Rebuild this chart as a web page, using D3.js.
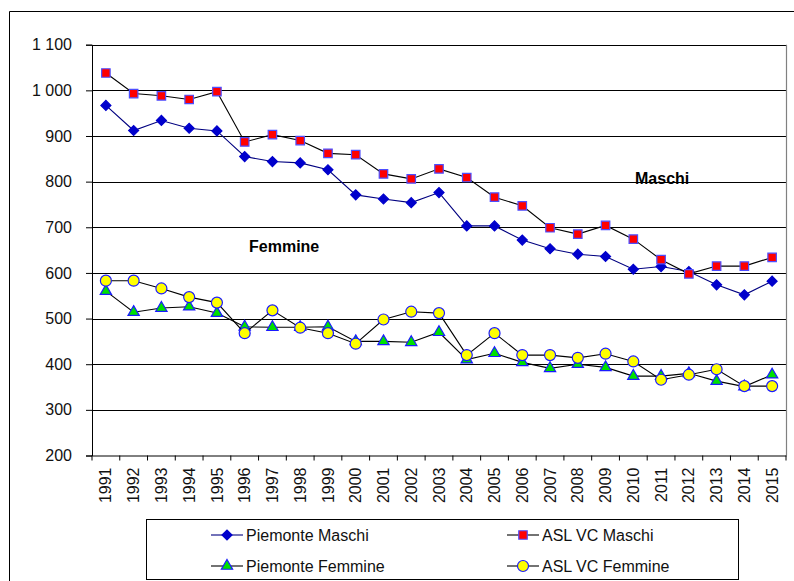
<!DOCTYPE html>
<html>
<head>
<meta charset="utf-8">
<script src="https://cdn.jsdelivr.net/npm/d3@7"></script>
<style>
  html, body { margin: 0; padding: 0; background: #fff; }
  svg { display: block; }
  text { font-family: "Liberation Sans", Arial, sans-serif; }
</style>
</head>
<body>
<svg id="chart" width="794" height="581"></svg>
<script>
const years = ["1991","1992","1993","1994","1995","1996","1997","1998","1999","2000","2001","2002","2003","2004","2005","2006","2007","2008","2009","2010","2011","2012","2013","2014","2015"];
const piemonteMaschi = [967,912,934,917,911,855,844,841,826,771,762,754,776,703,703,672,653,641,636,608,614,603,574,552,582];
const aslVcMaschi = [1038,993,988,980,997,887,903,890,862,859,817,806,828,809,766,747,699,685,704,674,629,598,615,615,634];
const piemonteFemmine = [560,514,523,526,512,482,481,481,482,450,450,448,470,410,424,404,391,400,393,374,374,380,363,351,377];
const aslVcFemmine = [583,583,566,547,535,468,518,480,468,445,498,515,512,420,468,420,420,414,423,406,366,377,389,352,352];
const yTicks = [200,300,400,500,600,700,800,900,1000,1100];
const seriesNames = ["Piemonte Maschi","ASL VC Maschi","Piemonte Femmine","ASL VC Femmine"];

const svg = d3.select("#chart");
const pLeft = 92, pRight = 786, pTop = 44.7, pBottom = 455.5;

const x = d3.scaleBand().domain(years).range([pLeft, pRight]);
const y = d3.scaleLinear().domain([200, 1100]).range([pBottom, pTop]);
const fmt = v => d3.format(",")(v).replace(",", " ");

// outer frame
svg.append("path").attr("d", "M9.5,581 L9.5,11.5 L794,11.5").attr("fill","none").attr("stroke","#000").attr("stroke-width",1);

// gridlines
svg.append("g").selectAll("line").data(yTicks.filter(t => t > 200)).join("line")
  .attr("x1", pLeft).attr("x2", pRight)
  .attr("y1", d => Math.round(y(d)) + 0.5).attr("y2", d => Math.round(y(d)) + 0.5)
  .attr("stroke", "#000").attr("stroke-width", 1);

// plot right border
svg.append("line").attr("x1", pRight + 0.5).attr("x2", pRight + 0.5).attr("y1", pTop).attr("y2", pBottom)
  .attr("stroke", "#808080").attr("stroke-width", 1.2);

// y axis
const yAxis = d3.axisLeft(y).tickValues(yTicks).tickSize(6).tickPadding(14).tickFormat(fmt);
const gy = svg.append("g").attr("transform", `translate(${pLeft},0)`).call(yAxis);
gy.select(".domain").attr("stroke", "#000");
gy.selectAll(".tick line").attr("stroke", "#000");
gy.selectAll(".tick text").attr("font-size", 16).attr("fill", "#111")
  .attr("font-family", "'Liberation Sans', Arial, sans-serif");

// x axis
const xAxis = d3.axisBottom(x).tickSize(0).tickFormat(d => d);
const gx = svg.append("g").attr("transform", `translate(0,${pBottom})`).call(xAxis);
gx.select(".domain").attr("stroke", "#000");
gx.selectAll(".tick text")
  .attr("font-size", 16).attr("fill", "#111")
  .attr("font-family", "'Liberation Sans', Arial, sans-serif")
  .attr("text-anchor", "end")
  .attr("transform", "translate(0,12) rotate(-90)")
  .attr("x", 0).attr("y", 0).attr("dy", "0.35em");
// category separator ticks
svg.append("g").selectAll("line").data(years.concat(["end"])).join("line")
  .attr("x1", (d, i) => i < years.length ? x(d) : pRight)
  .attr("x2", (d, i) => i < years.length ? x(d) : pRight)
  .attr("y1", pBottom).attr("y2", pBottom + 5)
  .attr("stroke", "#000");

const cx = d => x(d) + x.bandwidth() / 2;
const line = d3.line().x(d => cx(d.year)).y(d => y(d.v));
const toPts = arr => arr.map((v, i) => ({ year: years[i], v }));

const symbols = {
  diamond: d3.symbol().type(d3.symbolSquare).size(50),
  square: d3.symbol().type(d3.symbolSquare).size(72),
  triangle: d3.symbol().type(d3.symbolTriangle).size(55),
  circle: d3.symbol().type(d3.symbolCircle).size(95)
};

const series = [
  { name: seriesNames[2], data: piemonteFemmine, line: "#000", sym: "triangle", fill: "#00e000", stroke: "#1a1aff" },
  { name: seriesNames[3], data: aslVcFemmine, line: "#000", sym: "circle", fill: "#ffff00", stroke: "#1a1aff" },
  { name: seriesNames[0], data: piemonteMaschi, line: "#000080", sym: "diamond", fill: "#0000cc", stroke: "#0000cc" },
  { name: seriesNames[1], data: aslVcMaschi, line: "#000", sym: "square", fill: "#ff0000", stroke: "#4d4dff" }
];

function drawMarker(g, s, px, py) {
  const rot = s.sym === "diamond" ? " rotate(45)" : "";
  g.append("path").attr("d", symbols[s.sym]())
    .attr("transform", `translate(${px},${py})${rot}`)
    .attr("fill", s.fill).attr("stroke", s.stroke).attr("stroke-width", 1.2);
}

series.forEach(s => {
  const pts = toPts(s.data);
  svg.append("path").datum(pts).attr("d", line)
    .attr("fill", "none").attr("stroke", s.line).attr("stroke-width", 1.1);
  const g = svg.append("g");
  pts.forEach(p => drawMarker(g, s, cx(p.year), y(p.v)));
});

// annotations
svg.append("text").attr("x", 635).attr("y", 184).attr("font-size", 16).attr("font-weight", "bold").text("Maschi");
svg.append("text").attr("x", 249).attr("y", 252).attr("font-size", 16).attr("font-weight", "bold").text("Femmine");

// legend
svg.append("rect").attr("x", 146.5).attr("y", 519.5).attr("width", 592).attr("height", 60)
  .attr("fill", "#fff").attr("stroke", "#000").attr("stroke-width", 1);
const legendItems = [
  { s: series[2], col: 0, row: 0 },
  { s: series[3], col: 1, row: 0 },
  { s: series[0], col: 0, row: 1 },
  { s: series[1], col: 1, row: 1 }
];
const colX = [211, 507], rowY = [535, 566];
legendItems.forEach(it => {
  const lx = colX[it.col], ly = rowY[it.row];
  const g = svg.append("g");
  g.append("line").attr("x1", lx).attr("x2", lx + 32).attr("y1", ly).attr("y2", ly)
    .attr("stroke", it.s.line).attr("stroke-width", 1.1);
  drawMarker(g, it.s, lx + 16, ly);
  g.append("text").attr("x", lx + 35).attr("y", ly).attr("dy", "0.35em")
    .attr("font-size", 16).attr("fill", "#111").text(it.s.name);
});
</script>
</body>
</html>
